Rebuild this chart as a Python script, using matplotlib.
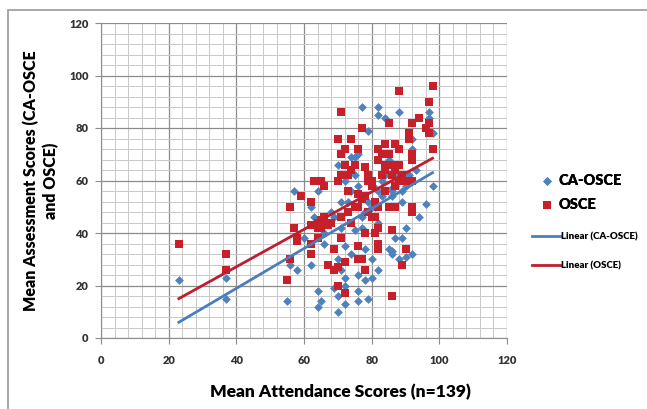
import numpy as np
import matplotlib.pyplot as plt
from matplotlib.patches import Rectangle
from matplotlib.ticker import MultipleLocator

# CA-OSCE scores vs mean attendance
ca_x = [23, 37, 37, 55, 56, 57, 58, 62, 62, 64, 64, 64, 65, 63, 66, 69, 70, 70, 70, 70,
        71, 71, 72, 72, 72, 72, 72, 73, 74, 74, 75, 75, 76, 76, 76, 76, 76, 77, 77, 78,
        78, 79, 79, 80, 80, 81, 82, 82, 82, 82, 82, 83, 84, 85, 85, 86, 86, 86, 86, 87,
        88, 88, 89, 89, 90, 90, 91, 92, 92, 92, 93, 94, 96, 97, 98, 98, 97, 67, 68, 73,
        75, 78, 80, 84, 86, 88, 90, 65, 71, 74, 79, 83, 87, 89, 91, 60, 66, 69, 77, 81]
ca_y = [22, 23, 15, 14, 28, 56, 26, 28, 50, 56, 18, 12, 14, 46, 40, 19, 10, 16, 30, 66,
        26, 52, 35, 23, 20, 13, 60, 52, 32, 69, 69, 41, 14, 18, 24, 70, 58, 88, 46, 22,
        34, 79, 15, 23, 30, 57, 88, 85, 26, 56, 44, 60, 84, 34, 68, 33, 32, 54, 57, 38,
        86, 30, 52, 38, 42, 31, 60, 72, 76, 32, 64, 46, 51, 86, 78, 58, 84, 44, 48, 62,
        62, 48, 50, 62, 56, 62, 58, 42, 42, 56, 52, 54, 58, 56, 62, 38, 36, 46, 42, 50]

# OSCE scores vs mean attendance
os_x = [23, 37, 37, 55, 56, 56, 57, 58, 58, 59, 62, 62, 62, 62, 63, 64, 64, 65, 65, 65,
        66, 66, 67, 67, 68, 69, 69, 70, 70, 70, 70, 71, 71, 71, 71, 71, 72, 72, 72, 72,
        73, 73, 74, 74, 74, 75, 76, 76, 76, 76, 76, 77, 77, 77, 78, 78, 78, 78, 79, 79,
        80, 80, 80, 81, 81, 82, 82, 82, 82, 82, 82, 83, 83, 84, 84, 84, 85, 85, 85, 86,
        86, 86, 87, 87, 87, 87, 88, 88, 88, 89, 89, 90, 90, 91, 91, 92, 92, 92, 92, 92,
        92, 94, 96, 97, 97, 98, 98, 97, 64, 66, 73, 75, 79, 81, 84, 86, 88]
os_y = [36, 32, 26, 22, 30, 50, 42, 37, 38, 54, 52, 36, 32, 43, 60, 38, 44, 45, 60, 42,
        58, 46, 43, 28, 44, 34, 26, 76, 60, 20, 27, 86, 62, 70, 46, 38, 72, 66, 29, 17,
        62, 48, 76, 64, 44, 66, 72, 35, 30, 50, 55, 80, 53, 30, 65, 40, 26, 54, 62, 48,
        60, 58, 46, 52, 40, 72, 68, 36, 34, 42, 50, 62, 70, 74, 64, 56, 82, 70, 50, 66,
        41, 16, 74, 64, 50, 58, 94, 72, 60, 28, 62, 34, 60, 78, 76, 82, 70, 68, 60, 50,
        48, 84, 80, 90, 82, 96, 72, 78, 42, 44, 56, 50, 60, 46, 66, 62, 66]

# trend lines: (slope, intercept)
ca_fit = (0.76, -11.5)
os_fit = (0.713, -1.4)
fit_range = (23, 98)

blue = '#4F81BD'
red = '#C8202A'
FONT = 'Lato'
W = 'heavy'

fig = plt.figure(figsize=(6.47, 4.09), dpi=100)
fig.patches.append(Rectangle((8 / 647, -0.1), 1.1, 1 - 10 / 409 + 0.1,
                             transform=fig.transFigure, fill=False,
                             edgecolor='#9a9a9a', linewidth=1.2))
ax = fig.add_axes([101 / 647, 1 - 338 / 409, 406 / 647, 315 / 409])

ax.scatter(ca_x, ca_y, marker='D', s=20, color=blue, linewidths=0, label='CA-OSCE', zorder=3)
ax.scatter(os_x, os_y, marker='s', s=40, color=red, linewidths=0, label='OSCE', zorder=4)

xs = np.array(fit_range)
ax.plot(xs, ca_fit[0] * xs + ca_fit[1], color='#4A7EBB', lw=2, label='Linear (CA-OSCE)', zorder=5)
ax.plot(xs, os_fit[0] * xs + os_fit[1], color='#BE1E2D', lw=2, label='Linear (OSCE)', zorder=5)

ax.set_xlim(0, 120)
ax.set_ylim(0, 120)
ax.xaxis.set_major_locator(MultipleLocator(20))
ax.yaxis.set_major_locator(MultipleLocator(20))
ax.xaxis.set_minor_locator(MultipleLocator(4))
ax.yaxis.set_minor_locator(MultipleLocator(4))
ax.grid(True, which='major', color='#8c8c8c', lw=0.9)
ax.grid(True, which='minor', color='#c8c8c8', lw=0.7)
ax.set_axisbelow(True)
for s in ['top', 'right']:
    ax.spines[s].set_visible(False)
for s in ['left', 'bottom']:
    ax.spines[s].set_color('#8c8c8c')
ax.tick_params(which='major', length=4, color='#8c8c8c', labelsize=8)
ax.tick_params(axis='x', pad=8)
ax.tick_params(axis='y', pad=5)
ax.tick_params(which='minor', length=0)
for lab in ax.get_xticklabels() + ax.get_yticklabels():
    lab.set_fontweight(W)
    lab.set_family(FONT)
    lab.set_color('#333333')

fig.text(340 / 647, 1 - 392 / 409, 'Mean Attendance Scores (n=139)', fontsize=12.5,
         fontweight=W, family=FONT, ha='center', va='center')
fig.text(41 / 647, 1 - 181 / 409, 'Mean Assessment Scores (CA-OSCE\nand OSCE)', fontsize=11.5,
         fontweight=W, family=FONT, ha='center', va='center', rotation=90,
         linespacing=1.3, multialignment='center')

handles, labels = ax.get_legend_handles_labels()
leg1 = fig.legend(handles[:2], labels[:2], loc='upper left', bbox_to_anchor=(540 / 647, 1 - 174 / 409),
                  frameon=False, prop={'family': FONT, 'weight': W, 'size': 10.5},
                  borderpad=0, borderaxespad=0, handletextpad=0.3, handlelength=1.0,
                  labelspacing=0.75)
fig.add_artist(leg1)
fig.legend(handles[2:], labels[2:], loc='upper left', bbox_to_anchor=(532 / 647, 1 - 232 / 409),
           frameon=False, prop={'family': FONT, 'weight': W, 'size': 7},
           borderpad=0, borderaxespad=0, handletextpad=0.1, handlelength=2.9,
           labelspacing=2.1)

fig.savefig('out.png', dpi=100)
